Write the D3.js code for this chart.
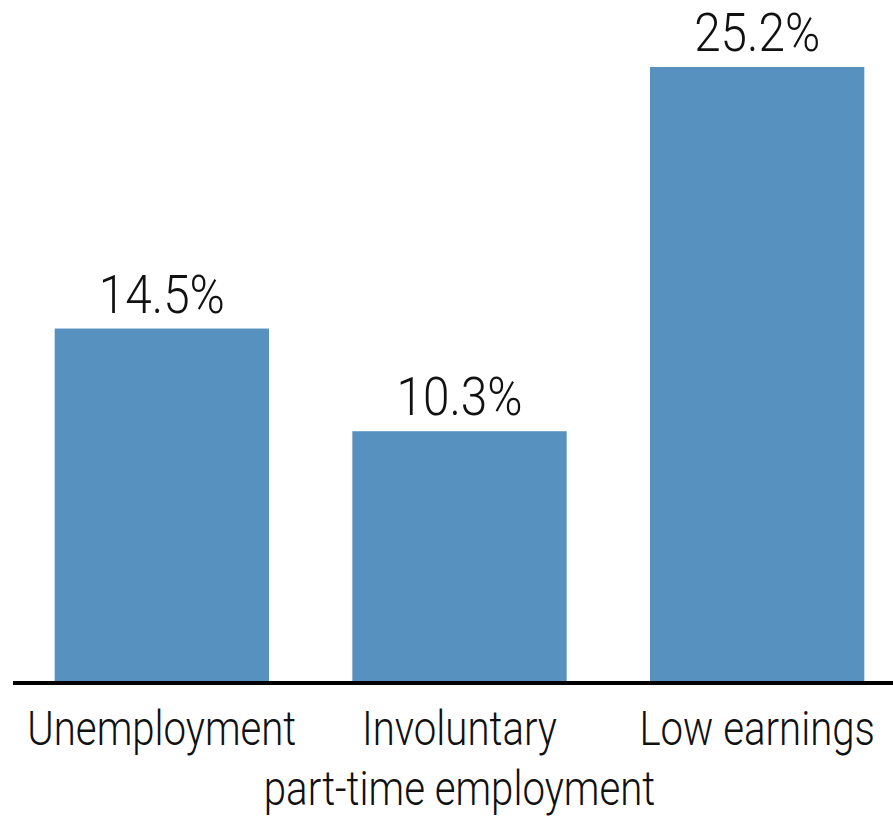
<!DOCTYPE html>
<html>
<head>
  <meta charset="utf-8" />
  <title>Bar chart</title>
  <script src="https://d3js.org/d3.v7.min.js"></script>
</head>
<body>
  <div id='graph'></div>
</body>
<style>
  body { margin: 0; background: #fff; }
  text { font-family: Roboto, sans-serif; font-weight: 300; fill: #111; }
</style>
<script>
  // data
  const categories = ['Unemployment', 'Involuntary', 'Low earnings']
  const subLabels = ['', 'part-time employment', '']
  const values = [14.5, 10.3, 25.2]
  const valueLabels = ['14.5%', '10.3%', '25.2%']

  const width = 893
  const height = 816
  const baseline = 683
  const squeeze = 0.82

  const svg = d3.select('#graph').append('svg')
    .attr('width', width)
    .attr('height', height)

  const xScale = d3.scaleBand()
    .domain(categories)
    .range([13, 906])
    .paddingInner(0.28)
    .paddingOuter(0.14)

  const yScale = d3.scaleLinear()
    .domain([0, d3.max(values)])
    .range([baseline, 67])

  const data = categories.map((c, i) => ({ cat: c, value: values[i], label: valueLabels[i], sub: subLabels[i] }))

  // bars
  svg.selectAll('rect.bar')
    .data(data)
    .enter()
    .append('rect')
    .attr('class', 'bar')
    .attr('x', d => xScale(d.cat))
    .attr('y', d => yScale(d.value))
    .attr('width', xScale.bandwidth())
    .attr('height', d => baseline - yScale(d.value))
    .attr('fill', '#5691c0')

  // value labels above bars
  svg.selectAll('text.val')
    .data(data)
    .enter()
    .append('text')
    .attr('class', 'val')
    .attr('text-anchor', 'middle')
    .attr('font-size', 53)
    .attr('transform', d => 'translate(' + (xScale(d.cat) + xScale.bandwidth() / 2) + ',' + (yScale(d.value) - 16) + ') scale(0.9,1)')
    .text(d => d.label)

  // x axis line
  svg.append('line')
    .attr('x1', 13)
    .attr('x2', width)
    .attr('y1', baseline)
    .attr('y2', baseline)
    .attr('stroke', '#000')
    .attr('stroke-width', 4)

  // category labels
  svg.selectAll('text.cat')
    .data(data)
    .enter()
    .append('text')
    .attr('class', 'cat')
    .attr('text-anchor', 'middle')
    .attr('font-size', 49)
    .attr('transform', d => 'translate(' + (xScale(d.cat) + xScale.bandwidth() / 2) + ',745) scale(' + squeeze + ',1)')
    .text(d => d.cat)

  svg.selectAll('text.sub')
    .data(data.filter(d => d.sub))
    .enter()
    .append('text')
    .attr('class', 'sub')
    .attr('text-anchor', 'middle')
    .attr('font-size', 49)
    .attr('transform', d => 'translate(' + (xScale(d.cat) + xScale.bandwidth() / 2) + ',805) scale(' + squeeze + ',1)')
    .text(d => d.sub)
</script>
</html>
